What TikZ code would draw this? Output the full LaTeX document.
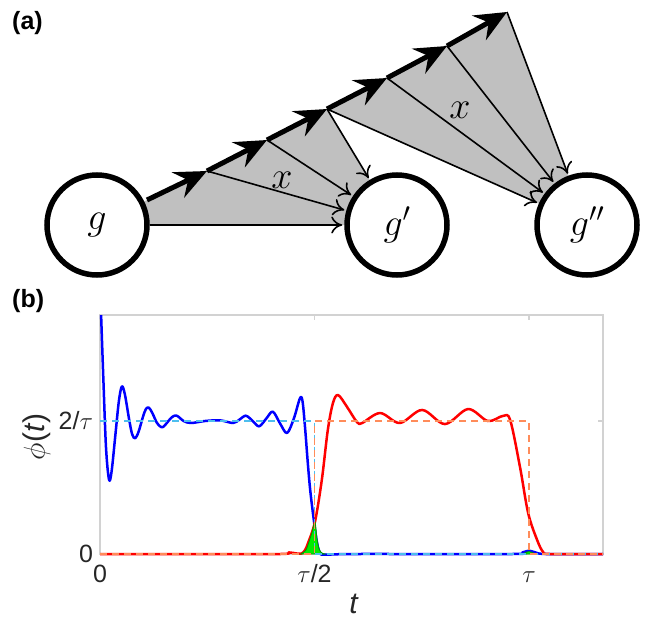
\RequirePackage{fix-cm}
\documentclass[tikz,border=0pt]{standalone}
\usepackage{fontspec}
\setmainfont{Liberation Sans}
\usetikzlibrary{arrows.meta}
\definecolor{fanGray}{RGB}{192,192,192}
\definecolor{boxGray}{RGB}{210,210,210}
\definecolor{axisText}{RGB}{38,38,38}
\definecolor{refBlue}{RGB}{77,190,238}
\definecolor{refOrange}{RGB}{255,140,90}
\definecolor{overlapGreen}{RGB}{0,235,0}
\definecolor{overlapLine}{RGB}{0,150,0}

\begin{document}
\begin{tikzpicture}[
  x=1pt, y=-1pt,
  panel/.style={font=\fontsize{25}{27}\selectfont\bfseries, anchor=base west, inner sep=0pt},
  state/.style={
    circle,
    draw=black,
    fill=white,
    line width=5.5pt,
    minimum size=100pt,
    inner sep=0pt,
    font=\fontsize{38}{40}\selectfont
  },
  fan/.style={fill=fanGray},
  flow/.style={line width=5pt, -{Stealth[length=32pt, width=28pt, inset=11pt]}},
  branch/.style={line width=1.6pt, -{To[length=11pt, width=17pt]}, shorten >=2pt},
  weight/.style={font=\fontsize{38}{40}\selectfont, inner sep=0pt},
  axisbox/.style={draw=boxGray, line width=1.2pt},
  ticklabel/.style={font=\fontsize{25}{27}\selectfont, text=axisText, inner sep=0pt},
  axislabel/.style={font=\fontsize{30}{32}\selectfont, text=axisText, inner sep=0pt},
  pulseA/.style={draw=blue, line width=2.5pt, line join=round},
  pulseB/.style={draw=red, line width=2.5pt, line join=round},
  overlap/.style={fill=overlapGreen, draw=overlapLine, line width=0.8pt},
  idealA/.style={draw=refBlue, line width=1.6pt, dash pattern=on 7pt off 5pt},
  idealB/.style={draw=refOrange, line width=1.6pt, dash pattern=on 7pt off 5pt}
]
  \useasboundingbox (0,0) rectangle (652,618);

  % ── (a) : chemin et éventails ──────────────────────────────────
  \node[panel] (labA) at (12,30) {(a)};

  \coordinate (cg)   at ( 97,225);
  \coordinate (cgp)  at (397,225);
  \coordinate (cgpp) at (587,225);

  \foreach \i/\px/\py in {0/147/200, 1/207/171, 2/267/140, 3/327/109,
                          4/387/78, 5/447/46, 6/507/12} {
    \coordinate (p\i) at (\px,\py);
  }

  \fill[fan] (cg) -- (p0) -- (p3) -- (cgp) -- cycle;
  \fill[fan] (p3) -- (p6) -- (cgpp) -- cycle;

  \node[state] (g)   at (cg)   {$g$};
  \node[state] (gp)  at (cgp)  {$g'$};
  \node[state] (gpp) at (cgpp) {$g''$};

  \draw[branch] (g) -- (gp);
  \foreach \i in {1,2,3} {
    \draw[branch] (p\i) -- (gp);
  }
  \foreach \i in {3,...,6} {
    \draw[branch] (p\i) -- (gpp);
  }
  \foreach \i/\j in {0/1, 1/2, 2/3, 3/4, 4/5, 5/6} {
    \draw[flow] (p\i) -- (p\j);
  }

  \node[weight] (x1) at (282,180) {$x$};
  \node[weight] (x2) at (460,110) {$x$};

  % ── (b) : impulsions ──────────────────────────────────────────
  \node[panel] (labB) at (12,307) {(b)};

  \begin{scope}[shift={(100,554)}, x=429pt, y=133pt]
    \def\tmax{1.1725}
    \def\vmax{1.797}

    \draw[axisbox] (0,0) rectangle (\tmax,\vmax);
    \foreach \tx in {0.5,1} {
      \draw[axisbox] (\tx,0) -- ++(0,0.038);
      \draw[axisbox] (\tx,\vmax) -- ++(0,-0.038);
    }
    \draw[axisbox] (0,1) -- ++(0.012,0);
    \draw[axisbox] (\tmax,1) -- ++(-0.012,0);

    \begin{scope}
      \clip (-0.01,-0.1) rectangle (\tmax,\vmax);
      % impulsion g
      \draw[pulseA] plot[smooth, tension=0.55] coordinates {
        (0.002,1.85) (0.008,1.30) (0.014,0.80) (0.021,0.56) (0.027,0.62)
        (0.036,0.90) (0.044,1.15) (0.051,1.26) (0.058,1.20) (0.068,1.01)
        (0.075,0.90) (0.082,0.87) (0.090,0.92) (0.100,1.03) (0.107,1.09)
        (0.114,1.10) (0.122,1.06) (0.132,0.99) (0.140,0.96) (0.147,0.955)
        (0.157,0.99) (0.168,1.03) (0.179,1.04) (0.195,1.00) (0.212,0.985)
        (0.245,1.00) (0.280,1.005) (0.310,0.985) (0.325,1.01) (0.340,1.04)
        (0.356,1.00) (0.371,0.96) (0.388,1.02) (0.403,1.07) (0.420,0.98)
        (0.436,0.91) (0.452,1.02) (0.466,1.17) (0.472,1.15) (0.478,0.95)
        (0.484,0.70) (0.490,0.48) (0.499,0.24) (0.506,0.083) (0.513,0.008)
        (0.524,-0.005) (0.600,0) (0.960,0) (0.985,0.012) (1.000,0.025)
        (1.015,0.012) (1.040,0) (\tmax,0)};
      % impulsion g'
      \draw[pulseB] plot[smooth, tension=0.55] coordinates {
        (0,0) (0.200,0) (0.420,0) (0.440,0.012) (0.458,0.004) (0.470,0.004)
        (0.478,0.030) (0.485,0.083) (0.501,0.241) (0.517,0.556) (0.531,0.932)
        (0.543,1.135) (0.555,1.195) (0.576,1.105) (0.599,0.992) (0.611,0.985)
        (0.653,1.060) (0.699,0.985) (0.751,1.083) (0.804,0.977) (0.858,1.090)
        (0.904,1.000) (0.939,1.038) (0.956,1.008) (0.979,0.654) (0.998,0.308)
        (1.019,0.105) (1.033,0.015) (1.049,0) (\tmax,0)};
    \end{scope}

    % recouvrement
    \filldraw[overlap] plot[smooth, tension=0.5] coordinates {
      (0.468,0) (0.480,0.030) (0.487,0.090) (0.494,0.160) (0.501,0.241)
      (0.506,0.110) (0.511,0.035) (0.518,0.006) (0.526,0)} -- cycle;
    \filldraw[overlap] plot[smooth] coordinates {
      (0.985,0) (1.000,0.018) (1.015,0)} -- cycle;

    % impulsions idéales
    \draw[idealA] (0,1) -- (0.5,1) -- (0.5,0) -- (\tmax,0);
    \draw[idealB] (0,0) -- (0.5,0) -- (0.5,1) -- (1,1) -- (1,0) -- (\tmax,0);

    \node[ticklabel, anchor=east] (y0)   at (-0.016,0) {0};
    \node[ticklabel, anchor=east] (y1)   at (-0.016,1) {2/$\tau$};
    \node[ticklabel, anchor=base] (t0)   at (0,-0.2105)   {0};
    \node[ticklabel, anchor=base] (t1)   at (0.5,-0.2105) {$\tau$/2};
    \node[ticklabel, anchor=base] (t2)   at (1,-0.2105)   {$\tau$};
    \node[axislabel, anchor=base] (tlab) at (0.592,-0.444) {\textit{t}};
    \node[axislabel, rotate=90]   (plab) at (-0.147,0.88) {$\phi$(\textit{t})};
  \end{scope}
\end{tikzpicture}
\end{document}
